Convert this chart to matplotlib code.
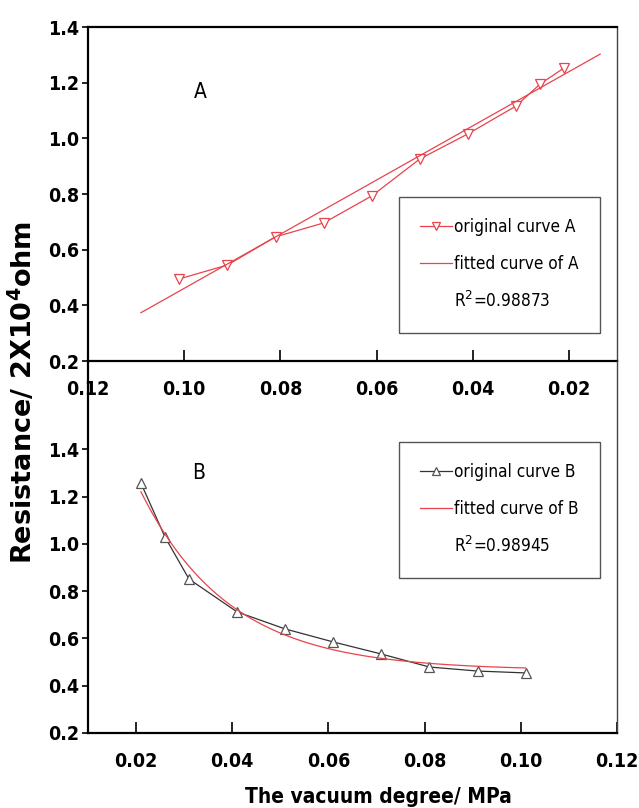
import numpy as np
import matplotlib
matplotlib.use("Agg")
import matplotlib.pyplot as plt
from matplotlib.lines import Line2D

# ---- data -------------------------------------------------------------
# Panel A: resistance against vacuum degree (axis runs from high to low vacuum)
vac_a = [0.101, 0.091, 0.081, 0.071, 0.061, 0.051, 0.041, 0.031, 0.026, 0.021]
res_a = [0.495, 0.545, 0.646, 0.696, 0.793, 0.926, 1.016, 1.116, 1.195, 1.253]
# linear fit y = intercept + slope * x
fit_a_range = [0.109, 0.0135]
fit_a_slope = -9.73
fit_a_intercept = 1.434
r2_a = "0.98873"

# Panel B: same measurements, exponential decay fit
vac_b = [0.021, 0.026, 0.031, 0.041, 0.051, 0.061, 0.071, 0.081, 0.091, 0.101]
res_b = [1.257, 1.029, 0.851, 0.712, 0.640, 0.585, 0.534, 0.479, 0.462, 0.454]
# y = y0 + amp * exp(-x / t)
fit_b_y0, fit_b_amp, fit_b_t = 0.465, 2.35, 0.0185
fit_b_range = [0.021, 0.101]
r2_b = "0.98945"

xticks_a = [0.12, 0.10, 0.08, 0.06, 0.04, 0.02]
xticks_b = [0.02, 0.04, 0.06, 0.08, 0.10, 0.12]
yticks = [0.2, 0.4, 0.6, 0.8, 1.0, 1.2, 1.4]

# ---- style ------------------------------------------------------------
NARROW = dict(family="DejaVu Sans", stretch="condensed")
RED = "#e8434b"
GREY = "#333333"

W, H = 639, 808
fig = plt.figure(figsize=(W / 100, H / 100), dpi=100)


def frac(x0, y0, x1, y1):
    return [x0 / W, 1 - y1 / H, (x1 - x0) / W, (y1 - y0) / H]


ax_a = fig.add_axes(frac(88, 27, 617, 361))
ax_b = fig.add_axes(frac(88, 361, 617, 733))
ax_b.patch.set_visible(False)

tick_font = dict(NARROW, weight="bold", size=14)


def style_axes(ax, xticks, xfmt):
    ax.set_yticks(yticks)
    ax.set_yticklabels([f"{v:.1f}" for v in yticks], fontdict=tick_font)
    ax.set_xticks(xticks)
    ax.set_xticklabels([xfmt.format(v) for v in xticks], fontdict=tick_font)
    ax.tick_params(axis="x", direction="in", length=8, width=1.2, pad=14)
    ax.tick_params(axis="y", direction="out", length=4, width=1.2, pad=2.5)
    for side in ("left", "bottom", "top"):
        ax.spines[side].set_linewidth(1.6)
    ax.spines["right"].set_linewidth(1.0)
    ax.spines["right"].set_color("#444444")


# ---- panel A ----------------------------------------------------------
ax_a.plot(vac_a, res_a, color=RED, lw=0.9, marker="v", ms=7.5,
          mfc="white", mec=RED, mew=0.9, zorder=2)
fa_x = np.array(fit_a_range)
ax_a.plot(fa_x, fit_a_intercept + fit_a_slope * fa_x, color=RED, lw=0.9, zorder=3)
ax_a.set_xlim(0.12, 0.01)
ax_a.set_ylim(0.2, 1.4)
style_axes(ax_a, xticks_a, "{:.2f}")
ax_a.text(0.212, 0.805, "A", transform=ax_a.transAxes, ha="center", va="center",
          size=15, **NARROW)

handles_a = [
    Line2D([], [], color=RED, lw=0.9, marker="v", ms=7.5, mfc="white", mec=RED, mew=0.9),
    Line2D([], [], color=RED, lw=0.9),
    Line2D([], [], ls="none"),
]
labels_a = ["original curve A", "fitted curve of A", f"R$^2$={r2_a}"]

# ---- panel B ----------------------------------------------------------
ax_b.plot(vac_b, res_b, color=GREY, lw=0.9, marker="^", ms=7.5,
          mfc="white", mec="#555555", mew=0.9, zorder=2)
fb_x = np.linspace(fit_b_range[0], fit_b_range[1], 200)
ax_b.plot(fb_x, fit_b_y0 + fit_b_amp * np.exp(-fb_x / fit_b_t), color=RED, lw=0.9, zorder=3)
ax_b.set_xlim(0.01, 0.12)
ax_b.set_ylim(0.2, 1.773)
style_axes(ax_b, xticks_b, "{:.2f}")
ax_b.spines["top"].set_visible(False)
ax_b.text(0.21, 0.699, "B", transform=ax_b.transAxes, ha="center", va="center",
          size=15, **NARROW)

handles_b = [
    Line2D([], [], color=GREY, lw=0.9, marker="^", ms=7.5, mfc="white", mec="#555555", mew=0.9),
    Line2D([], [], color=RED, lw=0.9),
    Line2D([], [], ls="none"),
]
labels_b = ["original curve B", "fitted curve of B", f"R$^2$={r2_b}"]

leg_kw = dict(loc="upper left", prop=dict(NARROW, size=12.3), fancybox=False,
              edgecolor="#555555", framealpha=1, borderpad=1.25, labelspacing=1.08,
              handlelength=1.85, handletextpad=0.12, borderaxespad=0, markerscale=0.75,
              numpoints=1)
leg_a = ax_a.legend(handles_a, labels_a, bbox_to_anchor=(0.588, 0.491), **leg_kw)
leg_b = ax_b.legend(handles_b, labels_b, bbox_to_anchor=(0.588, 0.782), **leg_kw)
for leg in (leg_a, leg_b):
    leg.get_frame().set_linewidth(1.0)

# ---- axis titles ------------------------------------------------------
fig.text(378 / W, 1 - 803 / H, "The vacuum degree/ MPa", ha="center", va="baseline",
         weight="bold", size=15, **NARROW)
fig.text(23 / W, 1 - 392 / H, r"Resistance/ 2X10$^\mathbf{4}$ohm", rotation=90,
         ha="center", va="center", family="DejaVu Sans", weight="bold", size=19.5)

fig.savefig("out.png", dpi=100)
